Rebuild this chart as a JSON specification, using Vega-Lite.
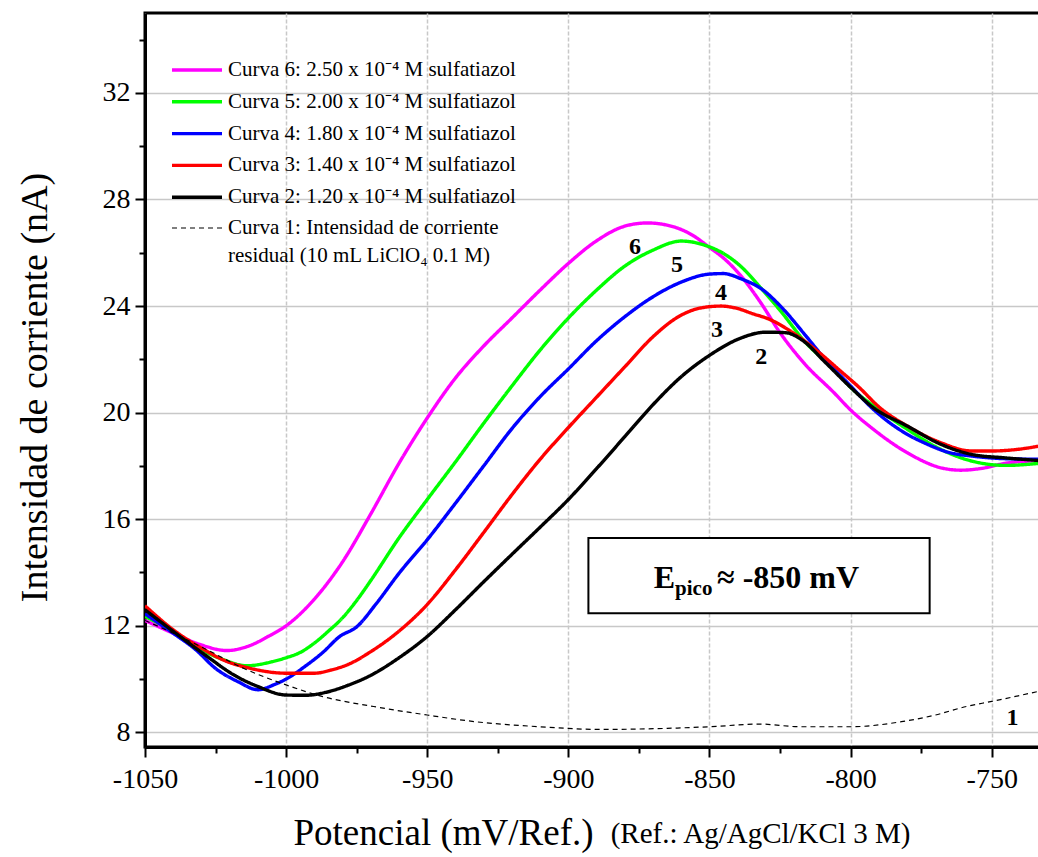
{
  "$schema": "https://vega.github.io/schema/vega-lite/v6.json",
  "width": 895,
  "height": 734,
  "autosize": {"type": "none"},
  "padding": {"left": 145, "top": 13, "right": 0, "bottom": 110},
  "background": "white",
  "config": {
    "view": {"stroke": "black", "strokeWidth": 3},
    "font": "Liberation Serif",
    "style": {"guide-label": {"lineHeight": 28}}
  },
  "datasets": {
    "curvas": [
      {"curva": "c6", "x": -1050, "y": 12.2}, {"curva": "c6", "x": -1040, "y": 11.72}, {"curva": "c6", "x": -1030, "y": 11.28}, {"curva": "c6", "x": -1021, "y": 11.07}, {"curva": "c6", "x": -1013, "y": 11.25}, {"curva": "c6", "x": -1006, "y": 11.62}, {"curva": "c6", "x": -1000, "y": 12.0}, {"curva": "c6", "x": -990, "y": 13.0}, {"curva": "c6", "x": -980, "y": 14.4}, {"curva": "c6", "x": -970, "y": 16.2}, {"curva": "c6", "x": -960, "y": 18.1}, {"curva": "c6", "x": -950, "y": 19.8}, {"curva": "c6", "x": -940, "y": 21.3}, {"curva": "c6", "x": -930, "y": 22.5}, {"curva": "c6", "x": -920, "y": 23.55}, {"curva": "c6", "x": -910, "y": 24.6}, {"curva": "c6", "x": -900, "y": 25.6}, {"curva": "c6", "x": -890, "y": 26.45}, {"curva": "c6", "x": -880, "y": 27.0}, {"curva": "c6", "x": -872, "y": 27.12}, {"curva": "c6", "x": -862, "y": 26.95}, {"curva": "c6", "x": -856, "y": 26.66}, {"curva": "c6", "x": -850, "y": 26.2}, {"curva": "c6", "x": -845, "y": 25.8}, {"curva": "c6", "x": -839, "y": 25.15}, {"curva": "c6", "x": -832, "y": 24.15}, {"curva": "c6", "x": -825, "y": 23.0}, {"curva": "c6", "x": -816, "y": 21.8}, {"curva": "c6", "x": -806, "y": 20.76}, {"curva": "c6", "x": -800, "y": 20.1}, {"curva": "c6", "x": -792, "y": 19.38}, {"curva": "c6", "x": -780, "y": 18.5}, {"curva": "c6", "x": -768, "y": 17.93}, {"curva": "c6", "x": -761, "y": 17.84}, {"curva": "c6", "x": -754, "y": 17.9}, {"curva": "c6", "x": -745, "y": 18.1}, {"curva": "c6", "x": -732.9, "y": 18.2},
      {"curva": "c5", "x": -1050, "y": 12.35}, {"curva": "c5", "x": -1040, "y": 11.79}, {"curva": "c5", "x": -1032, "y": 11.22}, {"curva": "c5", "x": -1022, "y": 10.72}, {"curva": "c5", "x": -1014, "y": 10.5}, {"curva": "c5", "x": -1005, "y": 10.65}, {"curva": "c5", "x": -1000, "y": 10.8}, {"curva": "c5", "x": -995, "y": 11.0}, {"curva": "c5", "x": -990, "y": 11.35}, {"curva": "c5", "x": -985, "y": 11.8}, {"curva": "c5", "x": -980, "y": 12.3}, {"curva": "c5", "x": -975, "y": 12.95}, {"curva": "c5", "x": -970, "y": 13.7}, {"curva": "c5", "x": -960, "y": 15.3}, {"curva": "c5", "x": -950, "y": 16.74}, {"curva": "c5", "x": -940, "y": 18.15}, {"curva": "c5", "x": -930, "y": 19.6}, {"curva": "c5", "x": -920, "y": 21.0}, {"curva": "c5", "x": -910, "y": 22.35}, {"curva": "c5", "x": -900, "y": 23.55}, {"curva": "c5", "x": -890, "y": 24.6}, {"curva": "c5", "x": -880, "y": 25.5}, {"curva": "c5", "x": -870, "y": 26.1}, {"curva": "c5", "x": -860, "y": 26.44}, {"curva": "c5", "x": -851, "y": 26.26}, {"curva": "c5", "x": -845, "y": 25.97}, {"curva": "c5", "x": -839, "y": 25.5}, {"curva": "c5", "x": -832, "y": 24.7}, {"curva": "c5", "x": -825, "y": 23.84}, {"curva": "c5", "x": -816, "y": 22.64}, {"curva": "c5", "x": -806, "y": 21.64}, {"curva": "c5", "x": -800, "y": 20.95}, {"curva": "c5", "x": -792, "y": 20.26}, {"curva": "c5", "x": -780, "y": 19.38}, {"curva": "c5", "x": -768, "y": 18.62}, {"curva": "c5", "x": -757, "y": 18.18}, {"curva": "c5", "x": -745, "y": 18.02}, {"curva": "c5", "x": -732.9, "y": 18.1},
      {"curva": "c4", "x": -1050, "y": 12.45}, {"curva": "c4", "x": -1040, "y": 11.72}, {"curva": "c4", "x": -1032, "y": 11.1}, {"curva": "c4", "x": -1025, "y": 10.4}, {"curva": "c4", "x": -1017, "y": 9.9}, {"curva": "c4", "x": -1010, "y": 9.6}, {"curva": "c4", "x": -1004, "y": 9.8}, {"curva": "c4", "x": -1000, "y": 10.0}, {"curva": "c4", "x": -993, "y": 10.5}, {"curva": "c4", "x": -987, "y": 11.0}, {"curva": "c4", "x": -981, "y": 11.6}, {"curva": "c4", "x": -975, "y": 11.96}, {"curva": "c4", "x": -968, "y": 12.84}, {"curva": "c4", "x": -960, "y": 13.97}, {"curva": "c4", "x": -950, "y": 15.23}, {"curva": "c4", "x": -940, "y": 16.6}, {"curva": "c4", "x": -930, "y": 18.0}, {"curva": "c4", "x": -920, "y": 19.4}, {"curva": "c4", "x": -910, "y": 20.6}, {"curva": "c4", "x": -900, "y": 21.64}, {"curva": "c4", "x": -890, "y": 22.7}, {"curva": "c4", "x": -880, "y": 23.6}, {"curva": "c4", "x": -870, "y": 24.35}, {"curva": "c4", "x": -860, "y": 24.9}, {"curva": "c4", "x": -850, "y": 25.2}, {"curva": "c4", "x": -845, "y": 25.22}, {"curva": "c4", "x": -839, "y": 25.03}, {"curva": "c4", "x": -831, "y": 24.6}, {"curva": "c4", "x": -824, "y": 23.9}, {"curva": "c4", "x": -816, "y": 22.9}, {"curva": "c4", "x": -809, "y": 22.0}, {"curva": "c4", "x": -800, "y": 21.0}, {"curva": "c4", "x": -792, "y": 20.13}, {"curva": "c4", "x": -780, "y": 19.19}, {"curva": "c4", "x": -774, "y": 18.87}, {"curva": "c4", "x": -765, "y": 18.5}, {"curva": "c4", "x": -757, "y": 18.37}, {"curva": "c4", "x": -745, "y": 18.27}, {"curva": "c4", "x": -732.9, "y": 18.25},
      {"curva": "c3", "x": -1050, "y": 12.75}, {"curva": "c3", "x": -1040, "y": 11.85}, {"curva": "c3", "x": -1030, "y": 11.16}, {"curva": "c3", "x": -1021, "y": 10.66}, {"curva": "c3", "x": -1013, "y": 10.41}, {"curva": "c3", "x": -1000, "y": 10.22}, {"curva": "c3", "x": -990, "y": 10.22}, {"curva": "c3", "x": -984, "y": 10.34}, {"curva": "c3", "x": -978, "y": 10.55}, {"curva": "c3", "x": -970, "y": 11.03}, {"curva": "c3", "x": -960, "y": 11.8}, {"curva": "c3", "x": -950, "y": 12.8}, {"curva": "c3", "x": -940, "y": 14.1}, {"curva": "c3", "x": -930, "y": 15.5}, {"curva": "c3", "x": -920, "y": 16.92}, {"curva": "c3", "x": -910, "y": 18.25}, {"curva": "c3", "x": -900, "y": 19.44}, {"curva": "c3", "x": -890, "y": 20.58}, {"curva": "c3", "x": -880, "y": 21.72}, {"curva": "c3", "x": -870, "y": 22.85}, {"curva": "c3", "x": -861, "y": 23.6}, {"curva": "c3", "x": -853.5, "y": 23.92}, {"curva": "c3", "x": -846, "y": 24.0}, {"curva": "c3", "x": -840.5, "y": 23.92}, {"curva": "c3", "x": -834.6, "y": 23.71}, {"curva": "c3", "x": -828.7, "y": 23.5}, {"curva": "c3", "x": -821.6, "y": 23.08}, {"curva": "c3", "x": -812, "y": 22.33}, {"curva": "c3", "x": -804, "y": 21.6}, {"curva": "c3", "x": -797, "y": 20.95}, {"curva": "c3", "x": -790, "y": 20.22}, {"curva": "c3", "x": -780, "y": 19.5}, {"curva": "c3", "x": -768, "y": 18.87}, {"curva": "c3", "x": -757, "y": 18.56}, {"curva": "c3", "x": -750, "y": 18.56}, {"curva": "c3", "x": -741, "y": 18.62}, {"curva": "c3", "x": -732.9, "y": 18.75},
      {"curva": "c2", "x": -1050, "y": 12.6}, {"curva": "c2", "x": -1040, "y": 11.79}, {"curva": "c2", "x": -1028, "y": 10.85}, {"curva": "c2", "x": -1018.6, "y": 10.16}, {"curva": "c2", "x": -1010, "y": 9.72}, {"curva": "c2", "x": -1000, "y": 9.4}, {"curva": "c2", "x": -993, "y": 9.39}, {"curva": "c2", "x": -986, "y": 9.5}, {"curva": "c2", "x": -978, "y": 9.77}, {"curva": "c2", "x": -970, "y": 10.14}, {"curva": "c2", "x": -960, "y": 10.8}, {"curva": "c2", "x": -950, "y": 11.6}, {"curva": "c2", "x": -940, "y": 12.6}, {"curva": "c2", "x": -930, "y": 13.65}, {"curva": "c2", "x": -920, "y": 14.68}, {"curva": "c2", "x": -910, "y": 15.7}, {"curva": "c2", "x": -900, "y": 16.74}, {"curva": "c2", "x": -890, "y": 17.9}, {"curva": "c2", "x": -880, "y": 19.1}, {"curva": "c2", "x": -870, "y": 20.3}, {"curva": "c2", "x": -860, "y": 21.35}, {"curva": "c2", "x": -850, "y": 22.15}, {"curva": "c2", "x": -840, "y": 22.75}, {"curva": "c2", "x": -830, "y": 23.02}, {"curva": "c2", "x": -823, "y": 23.0}, {"curva": "c2", "x": -817, "y": 22.71}, {"curva": "c2", "x": -809, "y": 21.89}, {"curva": "c2", "x": -800, "y": 20.95}, {"curva": "c2", "x": -792, "y": 20.19}, {"curva": "c2", "x": -780, "y": 19.5}, {"curva": "c2", "x": -768, "y": 18.81}, {"curva": "c2", "x": -757, "y": 18.43}, {"curva": "c2", "x": -745, "y": 18.3}, {"curva": "c2", "x": -732.9, "y": 18.2},
      {"curva": "c1", "x": -1050, "y": 12.2}, {"curva": "c1", "x": -1040, "y": 11.72}, {"curva": "c1", "x": -1028, "y": 11.1}, {"curva": "c1", "x": -1016, "y": 10.45}, {"curva": "c1", "x": -1000, "y": 9.78}, {"curva": "c1", "x": -987, "y": 9.34}, {"curva": "c1", "x": -969, "y": 8.97}, {"curva": "c1", "x": -950, "y": 8.65}, {"curva": "c1", "x": -933, "y": 8.4}, {"curva": "c1", "x": -910, "y": 8.21}, {"curva": "c1", "x": -889, "y": 8.11}, {"curva": "c1", "x": -865, "y": 8.15}, {"curva": "c1", "x": -850, "y": 8.21}, {"curva": "c1", "x": -832, "y": 8.31}, {"curva": "c1", "x": -818, "y": 8.21}, {"curva": "c1", "x": -800, "y": 8.21}, {"curva": "c1", "x": -782, "y": 8.4}, {"curva": "c1", "x": -770, "y": 8.65}, {"curva": "c1", "x": -759, "y": 8.97}, {"curva": "c1", "x": -750, "y": 9.16}, {"curva": "c1", "x": -732.9, "y": 9.55}
    ],
    "numeros": [
      {"x": -876.4, "y": 26.22, "texto": "6"},
      {"x": -861.5, "y": 25.54, "texto": "5"},
      {"x": -845.9, "y": 24.49, "texto": "4"},
      {"x": -847.3, "y": 23.1, "texto": "3"},
      {"x": -831.7, "y": 22.09, "texto": "2"},
      {"x": -742.6, "y": 8.54, "texto": "1"}
    ]
  },
  "encoding": {
    "x": {
      "field": "x", "type": "quantitative",
      "scale": {"domain": [-1050, -732.9], "nice": false, "zero": false},
      "axis": {
        "title": "Potencial (mV/Ref.)",
        "values": [-1050, -1025, -1000, -975, -950, -925, -900, -875, -850, -825, -800, -775, -750],
        "labelExpr": "datum.value % 50 == 0 ? toString(datum.value) : ''",
        "tickSize": {"condition": {"test": "datum.value % 50 == 0", "value": 10}, "value": 6},
        "gridOpacity": {"condition": {"test": "datum.value % 50 == 0", "value": 1}, "value": 0},
        "grid": true, "gridColor": "#c8c8c8", "gridDash": [4, 2], "gridWidth": 1.5,
        "domainColor": "black", "domainWidth": 3, "tickColor": "black", "tickWidth": 2,
        "labelFont": "Liberation Serif", "labelFontSize": 28, "labelColor": "black", "labelPadding": 8,
        "labelFlush": false, "labelOverlap": false,
        "titleFont": "Liberation Serif", "titleFontSize": 37, "titleFontWeight": "normal", "titleColor": "black",
        "titleX": 148, "titleY": 97, "titleAlign": "left", "titleBaseline": "alphabetic", "titleAnchor": null
      }
    },
    "y": {
      "field": "y", "type": "quantitative",
      "scale": {"domain": [7.45, 35], "nice": false, "zero": false},
      "axis": {
        "title": "Intensidad de corriente (nA)",
        "values": [8, 10, 12, 14, 16, 18, 20, 22, 24, 26, 28, 30, 32, 34],
        "labelExpr": "datum.value % 4 == 0 ? toString(datum.value) : ''",
        "tickSize": {"condition": {"test": "datum.value % 4 == 0", "value": 10}, "value": 6},
        "gridOpacity": {"condition": {"test": "datum.value % 4 == 0", "value": 1}, "value": 0},
        "grid": true, "gridColor": "#c8c8c8", "gridWidth": 1.5,
        "domainColor": "black", "domainWidth": 3, "tickColor": "black", "tickWidth": 2,
        "labelFont": "Liberation Serif", "labelFontSize": 28, "labelColor": "black", "labelPadding": 5,
        "labelFlush": false, "labelOverlap": false,
        "titleFont": "Liberation Serif", "titleFontSize": 38, "titleFontWeight": "normal", "titleColor": "black",
        "titleX": -110, "titleY": 374, "titleAngle": 270, "titleAlign": "center", "titleBaseline": "middle"
      }
    }
  },
  "layer": [
    {
      "data": {"name": "curvas"},
      "mark": {"type": "line", "interpolate": "monotone", "clip": true},
      "encoding": {
        "color": {
          "field": "curva", "type": "nominal",
          "scale": {"domain": ["c6", "c5", "c4", "c3", "c2", "c1"], "range": ["#ff00ff", "#00ff00", "#0000ff", "#ff0000", "#000000", "#000000"]},
          "legend": {
            "orient": "none", "legendX": 40, "legendY": 45, "title": null, "padding": 0,
            "symbolType": "M-2.5,0H2.5", "symbolSize": 400,
            "labelFont": "Liberation Serif", "labelFontSize": 21, "labelColor": "black", "labelLimit": 0,
            "labelOffset": 19, "rowPadding": 9.8,
            "labelExpr": "datum.value == 'c6' ? 'Curva 6: 2.50 x 10⁻⁴ M sulfatiazol' : datum.value == 'c5' ? 'Curva 5: 2.00 x 10⁻⁴ M sulfatiazol' : datum.value == 'c4' ? 'Curva 4: 1.80 x 10⁻⁴ M sulfatiazol' : datum.value == 'c3' ? 'Curva 3: 1.40 x 10⁻⁴ M sulfatiazol' : datum.value == 'c2' ? 'Curva 2: 1.20 x 10⁻⁴ M sulfatiazol' : ['Curva 1: Intensidad de corriente', 'residual (10 mL LiClO₄ 0.1 M)']"
          }
        },
        "strokeDash": {
          "field": "curva", "type": "nominal",
          "scale": {"domain": ["c6", "c5", "c4", "c3", "c2", "c1"], "range": [[1, 0], [1, 0], [1, 0], [1, 0], [1, 0], [5, 4]]}
        },
        "strokeWidth": {
          "field": "curva", "type": "nominal",
          "scale": {"type": "ordinal", "domain": ["c6", "c5", "c4", "c3", "c2", "c1"], "range": [3.4, 3.4, 3.4, 3.4, 3.4, 1.2]}
        }
      }
    },
    {
      "data": {"values": [{"x": -892.9, "x2": -772, "y": 15.29, "y2": 12.47}]},
      "mark": {"type": "rect", "fill": "white", "stroke": "black", "strokeWidth": 2},
      "encoding": {"x2": {"field": "x2"}, "y2": {"field": "y2"}}
    },
    {
      "data": {"name": "numeros"},
      "mark": {"type": "text", "font": "Liberation Serif", "fontWeight": "bold", "fontSize": 24, "color": "black", "align": "center", "baseline": "middle"},
      "encoding": {"text": {"field": "texto"}}
    },
    {
      "data": {"values": [{"x": -862.2, "y": 13.42, "texto": "E"}]},
      "mark": {"type": "text", "font": "Liberation Serif", "fontWeight": "bold", "fontSize": 32, "color": "black", "align": "right", "baseline": "alphabetic"},
      "encoding": {"text": {"field": "texto"}}
    },
    {
      "data": {"values": [{"x": -862.2, "y": 13.15, "texto": "pico"}]},
      "mark": {"type": "text", "font": "Liberation Serif", "fontWeight": "bold", "fontSize": 21, "color": "black", "align": "left", "baseline": "alphabetic"},
      "encoding": {"text": {"field": "texto"}}
    },
    {
      "data": {"values": [{"x": -847.3, "y": 13.42, "texto": "≈ -850 mV"}]},
      "mark": {"type": "text", "font": "Liberation Serif", "fontWeight": "bold", "fontSize": 32, "color": "black", "align": "left", "baseline": "alphabetic"},
      "encoding": {"text": {"field": "texto"}}
    },
    {
      "data": {"values": [{"x": -885.0, "y": 3.845, "texto": "(Ref.: Ag/AgCl/KCl 3 M)"}]},
      "mark": {"type": "text", "font": "Liberation Serif", "fontSize": 29, "color": "black", "align": "left", "baseline": "alphabetic"},
      "encoding": {"text": {"field": "texto"}}
    }
  ]
}
